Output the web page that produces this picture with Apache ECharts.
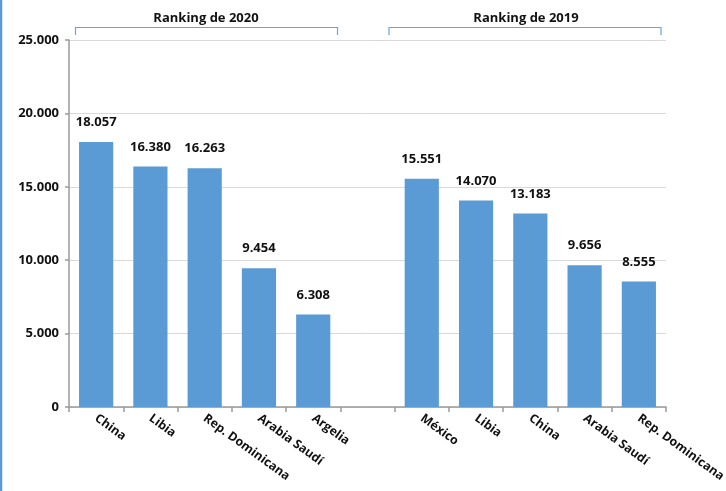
<!DOCTYPE html>
<html>
<head>
<meta charset="utf-8">
<script src="https://cdn.jsdelivr.net/npm/echarts@6/dist/echarts.min.js"></script>
<style>
html,body{margin:0;padding:0;background:#fff;}
#c{width:726px;height:491px;}
</style>
</head>
<body>
<div id="c"></div>
<script>
const categories = ['China','Libia','Rep. Dominicana','Arabia Saudí','Argelia','','México','Libia ','China ','Arabia Saudí ','Rep. Dominicana '];
const values = [18057,16380,16263,9454,6308,null,15551,14070,13183,9656,8555];
const yTicks = [0,5000,10000,15000,20000,25000];
const groupTitles = ['Ranking de 2020','Ranking de 2019'];

const fmt = v => {
  if (v === 0) return '0';
  const s = String(Math.round(v));
  return s.replace(/\B(?=(\d{3})+(?!\d))/g, '.');
};
const FONT = 'Open Sans';
const chart = echarts.init(document.getElementById('c'), null, {renderer:'canvas'});
const bracketColor = '#6FA3D8';
chart.setOption({
  animation:false,
  backgroundColor:'#ffffff',
  grid:{left:69,right:60,top:40,bottom:84,containLabel:false,outerBoundsMode:'none'},
  xAxis:{
    type:'category',
    data:categories,
    axisLine:{show:true,lineStyle:{color:'#9a9a9a',width:1.5}},
    axisTick:{show:true,length:5,interval:0,lineStyle:{color:'#9a9a9a',width:1.5}},
    axisLabel:{
      interval:0,rotate:-36,margin:10,
      color:'#111',fontFamily:FONT,fontWeight:'bold',fontSize:12.3,
      formatter: v => v.trim()
    }
  },
  yAxis:{
    type:'value',min:yTicks[0],max:yTicks[yTicks.length-1],interval:5000,
    axisLine:{show:true,lineStyle:{color:'#9a9a9a',width:1.5}},
    axisTick:{show:true,length:4,lineStyle:{color:'#9a9a9a',width:1.5}},
    splitLine:{show:true,lineStyle:{color:'#d9d9d9',width:1}},
    axisLabel:{margin:10,color:'#111',fontFamily:FONT,fontWeight:'bold',fontSize:13,formatter:fmt}
  },
  series:[{
    type:'bar',
    data:values,
    barWidth:'63%',
    itemStyle:{color:'#5B9BD5'},
    label:{
      show:true,position:'top',distance:13,
      color:'#111',fontFamily:FONT,fontWeight:'bold',fontSize:13,
      formatter:p => fmt(p.value)
    }
  }],
  graphic:[
    {type:'line',shape:{x1:1,y1:0,x2:1,y2:491},style:{stroke:'#5B9BD5',lineWidth:2.5}},
    {type:'polyline',shape:{points:[[75.5,35],[75.5,27.5],[337.5,27.5],[337.5,35]]},style:{stroke:bracketColor,lineWidth:1.2,fill:null}},
    {type:'polyline',shape:{points:[[389,35],[389,27.5],[661,27.5],[661,35]]},style:{stroke:bracketColor,lineWidth:1.2,fill:null}},
    {type:'text',x:206,y:18,style:{text:groupTitles[0],fill:'#111',font:'bold 13px "Open Sans"',textAlign:'center',textVerticalAlign:'middle'}},
    {type:'text',x:526,y:18,style:{text:groupTitles[1],fill:'#111',font:'bold 13px "Open Sans"',textAlign:'center',textVerticalAlign:'middle'}}
  ]
});
</script>
</body>
</html>
